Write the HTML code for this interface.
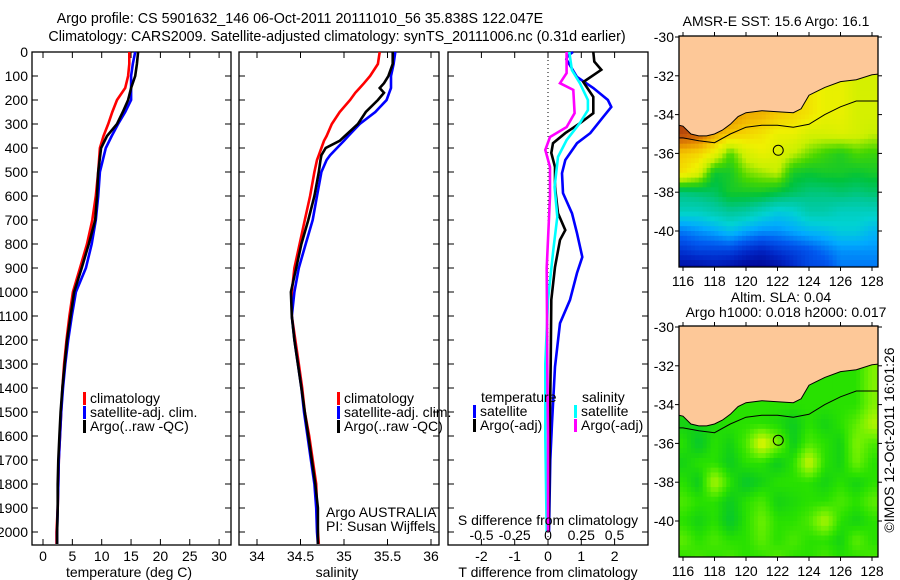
<!DOCTYPE html>
<html><head><meta charset="utf-8">
<style>
html,body{margin:0;padding:0;background:#fff;}
svg{display:block;font-family:"Liberation Sans",sans-serif;}
text{font-size:14px;fill:#000;}
</style></head>
<body>
<svg id="fig" width="900" height="580" viewBox="0 0 900 580">
<defs>
<clipPath id="clipMap1"><rect x="679" y="36" width="199" height="231"/></clipPath>
<clipPath id="clipMap2"><rect x="679" y="326" width="199" height="231"/></clipPath>
</defs>
<text x="300" y="23" text-anchor="middle" style="font-size:14.3px">Argo profile: CS 5901632_146 06-Oct-2011 20111010_56 35.838S 122.047E</text>
<text x="337" y="41" text-anchor="middle" style="font-size:14.3px">Climatology: CARS2009. Satellite-adjusted climatology: synTS_20111006.nc (0.31d earlier)</text>
<g id="g1"></g>
<g id="g2"></g>
<g id="g3"></g>
<g id="m1"></g>
<g id="m2"></g>
<text x="776" y="26" text-anchor="middle">AMSR-E SST: 15.6 Argo: 16.1</text>
<text x="781" y="302" text-anchor="middle">Altim. SLA: 0.04</text>
<text x="786" y="317" text-anchor="middle">Argo h1000: 0.018 h2000: 0.017</text>
<text transform="translate(894,440) rotate(-90)" text-anchor="middle">©IMOS 12-Oct-2011 16:01:26</text>
</svg>
<script>
// ---------- profile data ----------
const tDepth = [0,50,100,150,200,250,300,350,400,500,600,700,800,900,1000,1100,1200,1300,1400,1500,1600,1700,1800,1900,2000,2050];
const tClim  = [14.7,14.7,14.5,14.0,12.6,11.8,11.1,10.3,9.7,9.4,9.0,8.4,7.5,6.3,5.1,4.5,4.0,3.6,3.3,3.1,2.9,2.7,2.6,2.5,2.3,2.3];
const tSat   = [15.7,15.3,15.0,15.0,15.0,14.0,12.8,11.7,10.7,9.7,9.4,9.0,8.3,7.3,5.6,4.9,4.3,3.8,3.4,3.1,2.9,2.7,2.6,2.5,2.4,2.4];
const tArgo  = [16.2,16.0,15.7,15.0,14.5,13.6,12.6,10.9,9.9,9.4,9.2,8.9,7.8,6.6,5.3,4.7,4.1,3.7,3.3,3.0,2.8,2.6,2.5,2.5,2.4,2.4];
const sDepth = [0,50,100,130,150,170,200,250,300,350,370,400,430,450,500,600,700,800,900,1000,1100,1200,1300,1400,1500,1600,1700,1800,1900,2000,2050];
const sClim  = [35.41,35.39,35.30,35.23,35.18,35.13,35.07,34.95,34.86,34.80,34.77,34.74,34.71,34.69,34.66,34.61,34.55,34.49,34.43,34.40,34.40,34.44,34.48,34.52,34.55,34.60,34.64,34.68,34.69,34.70,34.71];
const sArgo  = [35.56,35.56,35.51,35.46,35.41,35.46,35.39,35.25,35.16,35.01,34.95,34.79,34.74,34.73,34.71,34.66,34.59,34.51,34.45,34.39,34.40,34.43,34.47,34.51,34.55,34.59,34.63,34.67,34.70,34.70,34.70];
const sSat   = [35.59,35.57,35.54,35.54,35.54,35.52,35.49,35.36,35.18,35.05,35.0,34.92,34.84,34.80,34.74,34.69,34.64,34.56,34.48,34.43,34.40,34.43,34.47,34.51,34.54,34.58,34.62,34.66,34.68,34.69,34.70];
const dTSatDepth = [0,15,30,104,150,200,229,270,338,380,450,505,588,672,755,854,921,1033,1130,1312,1546,1700,2000];
const dTSat      = [0.75,0.6,0.55,0.87,1.36,1.8,1.9,1.66,1.27,0.87,0.52,0.42,0.45,0.72,0.87,1.03,0.87,0.66,0.36,0.21,0.12,0.07,0.03];
const dTArgoDepth = [0,40,74,125,187,255,296,338,380,421,479,562,672,742,783,896,1033,1300,1600,2000];
const dTArgo      = [1.36,1.39,1.6,1.06,1.36,1.36,0.97,0.52,0.15,0.1,0.21,0.21,0.3,0.52,0.36,0.21,0.1,0.08,0.05,0.02];
const dSSatDepth = [0,75,130,200,242,296,367,437,562,687,825,1033,1300,1600,2000];
const dSSat      = [0.16,0.18,0.24,0.3,0.3,0.24,0.14,0.075,0.05,0.07,0.04,0.0,-0.02,-0.02,-0.01];
const dSArgoDepth = [0,88,130,158,255,313,354,408,479,600,900,1300,1600,2000];
const dSArgo      = [0.14,0.14,0.09,0.19,0.2,0.14,0.015,-0.02,0.015,0.015,-0.01,-0.005,0,0];
const depthTicks = [0,100,200,300,400,500,600,700,800,900,1000,1100,1200,1300,1400,1500,1600,1700,1800,1900,2000];
const tempTicks = [0,5,10,15,20,25,30];
const salTicks = [34,34.5,35,35.5,36];
const salTickLabels = ["34","34.5","35","35.5","36"];
const diffTTicks = [-2,-1,0,1,2];
const diffSTicks = [-0.5,-0.25,0,0.25,0.5];
const diffSTickLabels = ["-0.5","-0.25","0","0.25","0.5"];
// ---------- map data ----------
const mapLons = [116,117,118,119,120,121,122,123,124,125,126,127,128];
const mapLats = [-34,-35,-36,-37,-38,-39,-40,-41,-42];
const sstGrid = [
 [19,19,18.5,18,17.6,17.5,17.2,17,16.8,16.5,16.5,16.2,16.2],
 [19,18.6,17.6,17.2,17,16.8,16.5,16.5,16.2,16.2,16.3,16.2,16],
 [17.2,17,16.5,15.4,16.2,16.5,16.3,16.0,15.6,15.3,15.1,15.4,15.3],
 [16.8,16.3,14.9,15.0,15.6,15.8,16,15,14.9,15,15,14.9,15],
 [14.4,14.5,14.6,15,15,15,14.8,14.6,14.4,14.4,14.5,14.4,14.5],
 [13.8,13.8,14.0,14.2,14.1,13.8,13.5,13.6,14,14,13.8,13.8,13.8],
 [12.6,12.8,13.0,13.3,13,12.8,12.8,13.0,13.2,13.3,13.5,13.5,13.2],
 [11.8,12,12,12,11.7,11.5,11.8,12,12.2,12.5,12.8,12.8,12.8],
 [11,11,11.2,11,10.8,10.8,11,11.5,12,12,12.5,12.5,12.5]];
const slaGrid = [
 [0.0,0.0,0.0,0.0,0.0,0.0,0.0,0.0,0.0,0.0,0.0,0.0,0.05],
 [-0.02,-0.02,-0.01,0.0,0.0,0.0,-0.01,-0.03,0.0,-0.02,0.0,0.03,0.08],
 [0.0,-0.04,0.0,-0.02,0.02,0.12,0.05,-0.03,0.02,0.0,-0.02,0.05,0.02],
 [-0.02,0.0,0.0,-0.03,0.0,0.0,-0.03,0.0,0.1,0.0,-0.02,0.04,0.0],
 [0.0,-0.03,0.08,0.0,-0.04,-0.02,0.0,0.0,0.0,-0.02,0.0,-0.02,0.0],
 [0.02,0.0,0.0,-0.03,0.0,0.02,-0.02,-0.01,0.0,0.0,0.02,0.0,0.03],
 [0.0,-0.02,0.0,-0.04,0.0,0.04,0.0,0.0,0.02,0.08,0.0,-0.02,0.0],
 [0.03,0.0,0.02,0.0,0.0,0.03,0.0,0.02,0.0,0.0,-0.02,0.03,0.0],
 [0.0,0.02,0.0,0.02,0.0,0.0,0.03,0.0,0.0,0.02,0.0,0.0,0.02]];
const coastLon = [115.5,116,116.5,117,117.5,118,118.5,119,119.5,120,121,122,123,123.5,124,124.5,125,126,127,128,128.5];
const coastLat = [-34.5,-34.6,-35.0,-35.1,-35.1,-35.0,-34.8,-34.5,-34.1,-33.9,-33.8,-33.85,-33.9,-33.7,-33.0,-32.8,-32.6,-32.3,-32.2,-31.95,-31.9];
const shelfLon = [115.5,116,117,118,119,120,121,122,123,124,125,126,127,128.5];
const shelfLat = [-35.2,-35.2,-35.35,-35.45,-35.0,-34.65,-34.55,-34.55,-34.65,-34.5,-34.0,-33.6,-33.3,-33.3];
const argoLon = 122.047, argoLat = -35.838;
const mapLatTicks = [-30,-32,-34,-36,-38,-40];
const mapLonTicks = [116,118,120,122,124,126,128];

const NS = "http://www.w3.org/2000/svg";
function mk(parent, tag, attrs, txt){ const e=document.createElementNS(NS,tag); for(const k in attrs) e.setAttribute(k,attrs[k]); if(txt!==undefined) e.textContent=txt; parent.appendChild(e); return e; }

const Y0 = 52, YB = 545;
const yD = d => Y0 + d*0.24;
const xT = t => 43 + t*5.87;
const xS = s => 257 + (s-34)*87;
const xDT = t => 548 + t*33.3;
const xDS = s => 548 + s*133;

function frame(g, x0, x1, name){
  const r = mk(g,'rect',{x:x0,y:Y0,width:x1-x0,height:YB-Y0,fill:'none',stroke:'#000','stroke-width':1.3});
  
  
  depthTicks.forEach(d=>{
    const y=yD(d);
    const t1=mk(g,'line',{x1:x0,x2:x0+6,y1:y,y2:y,stroke:'#000'});
    
    
    const t2=mk(g,'line',{x1:x1-6,x2:x1,y1:y,y2:y,stroke:'#000'});
    
    
  });
}
function xticks(g, vals, fx, labels, ly){
  vals.forEach((v,i)=>{
    const x=fx(v);
    const a=mk(g,'line',{x1:x,x2:x,y1:Y0,y2:Y0+6,stroke:'#000'});
    
    
    const b=mk(g,'line',{x1:x,x2:x,y1:YB-6,y2:YB,stroke:'#000'});
    
    
    const t=mk(g,'text',{x:x,y:ly,'text-anchor':'middle'},labels[i]);
    
    
  });
}
function line(g, ds, vs, fx, color, name, w){
  const pts = ds.map((d,i)=>fx(vs[i]).toFixed(1)+','+yD(d).toFixed(1)).join(' ');
  const p = mk(g,'polyline',{points:pts,fill:'none',stroke:color,'stroke-width':w||2.6,'stroke-linejoin':'miter'});
  
  
}
function legendEntry(g, x, y, color, label, name){
  const m=mk(g,'rect',{x:x,y:y-11,width:3,height:13,fill:color});
  
  
  const t=mk(g,'text',{x:x+7,y:y},label);
  
  
}

// Panel 1
const g1 = document.getElementById('g1');
frame(g1, 32, 231, 'temperature-axes-frame');
xticks(g1, tempTicks, xT, tempTicks.map(String), 561);
depthTicks.forEach(d=>{
  const t=mk(g1,'text',{x:28,y:yD(d)+5,'text-anchor':'end'},String(d));
  
  
});
line(g1, tDepth, tClim, xT, '#ff0000', 'temp-climatology-line');
line(g1, tDepth, tSat, xT, '#0000ff', 'temp-satellite-line');
line(g1, tDepth, tArgo, xT, '#000000', 'temp-argo-line');
legendEntry(g1, 83, 403, '#ff0000', 'climatology', 'legend-climatology');
legendEntry(g1, 83, 417, '#0000ff', 'satellite-adj. clim.', 'legend-satellite');
legendEntry(g1, 83, 431, '#000000', 'Argo(..raw -QC)', 'legend-argo');
mk(g1,'text',{x:129,y:577,'text-anchor':'middle',},'temperature (deg C)');

// Panel 2
const g2 = document.getElementById('g2');
frame(g2, 239, 439, 'salinity-axes-frame');
xticks(g2, salTicks, xS, salTickLabels, 561);
line(g2, sDepth, sClim, xS, '#ff0000', 'sal-climatology-line');
line(g2, sDepth, sSat, xS, '#0000ff', 'sal-satellite-line');
line(g2, sDepth, sArgo, xS, '#000000', 'sal-argo-line');
legendEntry(g2, 337, 403, '#ff0000', 'climatology', 'legend-climatology');
legendEntry(g2, 337, 417, '#0000ff', 'satellite-adj. clim.', 'legend-satellite');
legendEntry(g2, 337, 431, '#000000', 'Argo(..raw -QC)', 'legend-argo');
mk(g2,'text',{x:326,y:517,},'Argo AUSTRALIA');
mk(g2,'text',{x:326,y:531,},'PI: Susan Wijffels');
mk(g2,'text',{x:337,y:577,'text-anchor':'middle',},'salinity');

// Panel 3
const g3 = document.getElementById('g3');
frame(g3, 448, 648, 'difference-axes-frame');
xticks(g3, diffTTicks, xDT, diffTTicks.map(String), 561);
mk(g3,'line',{x1:548,x2:548,y1:Y0,y2:YB,stroke:'#000','stroke-dasharray':'1,3',});
line(g3, dTSatDepth, dTSat, xDT, '#0000ff', 'dT-satellite-line');
line(g3, dTArgoDepth, dTArgo, xDT, '#000000', 'dT-argo-line');
line(g3, dSSatDepth, dSSat, xDS, '#00ffff', 'dS-satellite-line');
line(g3, dSArgoDepth, dSArgo, xDS, '#ff00ff', 'dS-argo-line');
diffSTicks.forEach((v,i)=>{
  const t=mk(g3,'text',{x:xDS(v),y:540,'text-anchor':'middle'},diffSTickLabels[i]);
  
  
});
mk(g3,'text',{x:548,y:525,'text-anchor':'middle',},'S difference from climatology');
mk(g3,'text',{x:481,y:402,},'temperature');
mk(g3,'text',{x:582,y:402,},'salinity');
legendEntry(g3, 473, 416, '#0000ff', 'satellite', 'legend-t-satellite');
legendEntry(g3, 473, 430, '#000000', 'Argo(-adj)', 'legend-t-argo');
legendEntry(g3, 574, 416, '#00ffff', 'satellite', 'legend-s-satellite');
legendEntry(g3, 574, 430, '#ff00ff', 'Argo(-adj)', 'legend-s-argo');
mk(g3,'text',{x:548,y:577,'text-anchor':'middle',},'T difference from climatology');

// ---------- maps ----------
function lerpColor(stops, v){
  if(v<=stops[0][0]) return stops[0][1];
  for(let i=1;i<stops.length;i++){
    if(v<=stops[i][0]){
      const a=stops[i-1], b=stops[i], f=(v-a[0])/(b[0]-a[0]);
      return [0,1,2].map(k=>Math.round(a[1][k]+(b[1][k]-a[1][k])*f));
    }
  }
  return stops[stops.length-1][1];
}
function toRgb(c){ return 'rgb('+c.join(',')+')'; }
const sstStops = [[10.8,[0,0,140]],[11.6,[0,40,200]],[12.3,[0,90,240]],[13,[0,170,255]],[13.6,[0,210,210]],[14.2,[0,200,150]],[14.8,[0,195,60]],[15.4,[70,215,0]],[16,[200,240,0]],[16.6,[240,240,0]],[17.2,[245,200,0]],[18,[230,140,0]],[18.7,[200,90,10]],[19.2,[170,60,10]]];
const slaStops = [[-0.05,[0,195,60]],[-0.02,[20,210,20]],[0.0,[40,225,0]],[0.04,[110,240,0]],[0.1,[210,245,0]],[0.14,[240,245,0]]];
function sample(grid, lon, lat){
  const fx=Math.max(0,Math.min(12,lon-116)), fy=Math.max(0,Math.min(8,-34-lat));
  const i0=Math.floor(fx), j0=Math.floor(fy), i1=Math.min(12,i0+1), j1=Math.min(8,j0+1);
  const ax=fx-i0, ay=fy-j0;
  return grid[j0][i0]*(1-ax)*(1-ay)+grid[j0][i1]*ax*(1-ay)+grid[j1][i0]*(1-ax)*ay+grid[j1][i1]*ax*ay;
}
function drawMap(gid, top, grid, stops, clipId, name){
  const g=document.getElementById(gid);
  const X = lon => 683 + (lon-116)*15.75;
  const Y = lat => top + 1 + (-30-lat)*19.4;
  const cg=mk(g,'g',{'clip-path':'url(#'+clipId+')'});
  
  
  const step=0.25;
  for(let lat=-29.75; lat>-42; lat-=step){
    for(let lon=115.5; lon<128.8; lon+=step){
      const v=sample(grid, lon+step/2, lat-step/2);
      const c=mk(cg,'rect',{x:X(lon).toFixed(2),y:Y(lat).toFixed(2),width:(step*15.75+0.6).toFixed(2),height:(step*19.4+0.6).toFixed(2),fill:toRgb(lerpColor(stops,v))});
      
      
    }
  }
  let d='M'+X(coastLon[0])+','+Y(-28);
  coastLon.forEach((lo,i)=>{ d+=' L'+X(lo).toFixed(1)+','+Y(coastLat[i]).toFixed(1); });
  d+=' L'+X(129)+','+Y(coastLat[coastLat.length-1])+' L'+X(129)+','+Y(-28)+' Z';
  const land=mk(cg,'path',{d:d,fill:'#fdc898',stroke:'#000','stroke-width':1});
  
  
  const sh=mk(cg,'polyline',{points:shelfLon.map((lo,i)=>X(lo).toFixed(1)+','+Y(shelfLat[i]).toFixed(1)).join(' '),fill:'none',stroke:'#000','stroke-width':1});
  
  
  const circ=mk(g,'circle',{cx:X(argoLon),cy:Y(argoLat),r:5,fill:'none',stroke:'#000','stroke-width':1});
  
  
  const fr=mk(g,'rect',{x:679,y:top,width:199,height:231,fill:'none',stroke:'#000','stroke-width':1.3});
  
  
  mapLatTicks.forEach(la=>{
    const y=Y(la);
    const a=mk(g,'line',{x1:675,x2:679,y1:y,y2:y,stroke:'#000'});
    
    
    const b=mk(g,'line',{x1:878,x2:882,y1:y,y2:y,stroke:'#000'});
    
    
    const t=mk(g,'text',{x:674,y:y+5,'text-anchor':'end'},String(la));
    
    
  });
  mapLonTicks.forEach(lo=>{
    const x=X(lo);
    const a=mk(g,'line',{x1:x,x2:x,y1:top-4,y2:top,stroke:'#000'});
    
    
    const b=mk(g,'line',{x1:x,x2:x,y1:top+231,y2:top+235,stroke:'#000'});
    
    
    const t=mk(g,'text',{x:x,y:top+250,'text-anchor':'middle'},String(lo));
    
    
  });
}
drawMap('m1', 36, sstGrid, sstStops, 'clipMap1', 'sst-map');
drawMap('m2', 326, slaGrid, slaStops, 'clipMap2', 'sla-map');
</script>
</body></html>
